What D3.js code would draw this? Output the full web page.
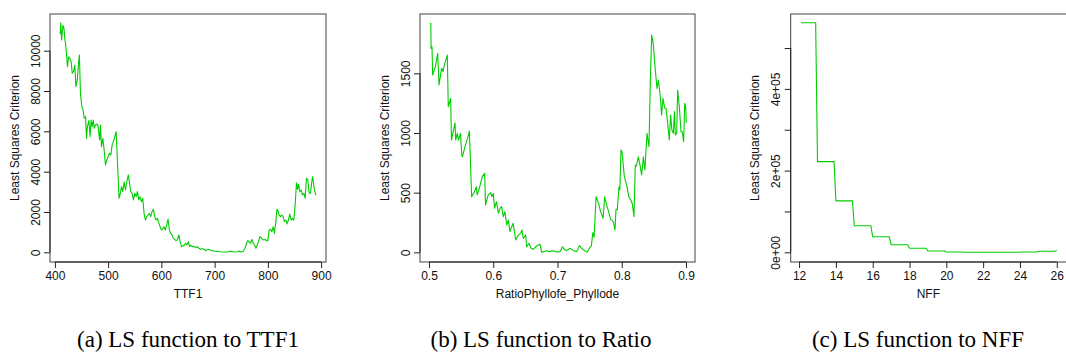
<!DOCTYPE html>
<html>
<head>
<meta charset="utf-8">
<script src="https://cdn.jsdelivr.net/npm/d3@7"></script>
<style>
  body { margin: 0; background: #fff; }
  svg { display: block; }
  .tick text, .title { font-family: "Liberation Sans", Arial, sans-serif; font-size: 12px; fill: #111; }
  .caption { font-family: "Liberation Serif", "Times New Roman", serif; font-size: 23px; fill: #000; }
</style>
</head>
<body>
<svg id="fig"></svg>
<script>
// (TTF1, LS criterion)
const ttf1Points = [
  [410,10830],[411,11380],[412.5,10530],[415,11260],[417,11100],[418.8,10530],[420,10360],[423.8,9200],
  [425.6,9700],[428,9620],[430.6,9450],[432.5,8880],[435,8960],[437.5,9290],[439.4,8220],[442,8550],
  [444.4,9370],[446,9790],[448,7890],[450.6,7220],[453,7060],[455,6650],[457.5,6730],[459.4,5650],
  [461,6230],[463.8,6530],[466,5740],[468,6560],[470,6230],[472,6560],[474,6150],[476,6310],
  [479,6360],[481,6270],[484,5570],[485.6,6310],[487.5,5240],[490,5650],[492.5,5070],[495,4330],
  [497.5,4580],[500,4740],[502.5,4910],[505,4830],[507.5,5320],[510,5490],[512.5,5740],[515,5990],
  [520.5,2680],[523,2930],[525,3260],[527.5,3010],[530,3500],[532.5,3090],[535,3500],[538,3840],
  [540.6,3340],[542.5,3010],[545,2930],[547.5,2600],[550,2930],[552.5,2760],[555,3010],[557.5,2600],
  [560,2760],[562.5,2510],[565,2680],[567.5,1930],[570,1600],[572.5,1770],[575,1850],[577.5,1930],
  [580,1770],[582.5,2020],[585,2130],[587.5,1770],[590,1600],[592.5,1690],[595,1470],[597.5,1270],
  [600,1110],[602.5,1140],[605,1270],[607.5,1110],[610,1360],[612.5,1650],[615,1110],[617.5,940],
  [620,860],[622.5,690],[625,640],[627.5,580],[630,610],[633,860],[635.6,480],[638,280],
  [640.6,310],[643,360],[645.6,450],[648,360],[650.6,530],[653,280],[655.6,350],[658,280],
  [661,310],[664,230],[667.5,280],[670.6,200],[673.8,150],[677,180],[680,150],[683,80],
  [686,130],[689,150],[692.5,100],[698.8,50],[705,50],[711,30],[717.5,15],[724,15],
  [730,65],[736,15],[742.5,30],[745.6,65],[748.8,15],[753.8,50],[757,200],[760,450],
  [762.5,580],[765,510],[767.5,450],[770,640],[772.5,450],[775,360],[777.5,200],[780,360],
  [782.5,530],[785,780],[787.5,730],[790,640],[792.5,610],[795,640],[797.5,580],[800,580],
  [802.5,1110],[805,1140],[807.5,1020],[810,1270],[812.5,940],[813.8,1310],[815,1470],[817,2130],
  [819,2070],[821,1850],[823.8,1770],[826,1850],[828.8,1770],[831,1520],[833.8,1600],[836,1410],
  [838.8,1600],[841,1900],[843.8,1600],[846,1690],[848.8,1600],[851,2260],[853.8,3450],[855.6,3120],
  [857.5,3390],[860,3010],[862.5,3090],[865,2840],[867.5,2930],[870,2680],[872.5,3670],[875,3590],
  [877.5,2930],[880,2930],[882.5,3500],[884,3750],[887,3170],[890,2840]
];

// (RatioPhyllofe_Phyllode, LS criterion)
const ratioPoints = [
  [0.5016,1913],[0.5028,1919],[0.5033,1709],[0.5047,1723],[0.5057,1486],[0.5073,1514],[0.5099,1556],[0.5135,1667],
  [0.5156,1402],[0.5176,1472],[0.5197,1542],[0.5218,1514],[0.5239,1570],[0.5285,1653],[0.530,1220],[0.5337,1290],
  [0.535,941],[0.5405,1086],[0.5415,941],[0.544,997],[0.546,941],[0.549,997],[0.551,815],[0.552,800],
  [0.556,885],[0.56,955],[0.5628,1016],[0.5664,466],[0.57,500],[0.5737,550],[0.575,480],[0.579,550],
  [0.583,634],[0.5866,662],[0.588,397],[0.592,480],[0.596,500],[0.598,466],[0.600,494],[0.602,369],
  [0.605,424],[0.608,327],[0.6105,369],[0.613,383],[0.6157,299],[0.618,341],[0.621,229],[0.6235,271],
  [0.626,173],[0.6287,215],[0.631,243],[0.635,103],[0.639,145],[0.6427,159],[0.6447,187],[0.6468,117],
  [0.6505,145],[0.652,47],[0.6556,75],[0.6588,34],[0.6624,25],[0.6676,53],[0.6728,67],[0.6754,0],
  [0.683,14],[0.688,6],[0.6935,14],[0.6987,3],[0.704,6],[0.708,47],[0.7106,25],[0.7143,14],
  [0.7195,34],[0.7247,14],[0.73,6],[0.734,56],[0.7376,34],[0.742,14],[0.7464,3],[0.7506,42],
  [0.7527,53],[0.755,165],[0.757,126],[0.76,466],[0.762,438],[0.764,410],[0.767,341],[0.771,285],
  [0.7734,466],[0.7765,397],[0.78,332],[0.7827,276],[0.7869,257],[0.7895,187],[0.791,360],[0.793,355],
  [0.7957,550],[0.797,522],[0.7988,857],[0.8004,843],[0.804,634],[0.8076,564],[0.811,466],[0.814,438],
  [0.8165,405],[0.819,299],[0.8211,732],[0.822,718],[0.8237,746],[0.8258,801],[0.8284,732],[0.831,648],
  [0.8336,801],[0.836,690],[0.8393,997],[0.8424,885],[0.8445,1444],[0.8466,1821],[0.849,1751],[0.8522,1528],
  [0.8549,1374],[0.857,1444],[0.86,1304],[0.862,1151],[0.8642,1290],[0.8668,1207],[0.8689,1207],[0.872,1053],
  [0.874,941],[0.8761,1151],[0.878,1025],[0.8803,997],[0.882,1179],[0.8834,983],[0.8855,997],[0.887,1360],
  [0.8896,1220],[0.8922,1011],[0.8942,1011],[0.8963,927],[0.898,1248],[0.8995,1220],[0.9005,1086]
];

// (NFF, LS criterion), step-like
const nffPoints = [
  [12.1,562000],[12.9,562000],[13.0,222000],[13.9,222000],[14.0,126000],[14.9,126000],[15.0,65000],[15.9,65000],
  [16.0,38000],[16.9,38000],[17.0,18500],[17.9,18500],[18.0,9800],[18.9,9800],[19.0,3200],[19.9,3200],
  [20.0,700],[20.9,700],[21.0,200],[21.9,200],[22.0,0],[22.9,0],[23.0,200],[23.9,200],
  [24.0,900],[24.9,900],[25.0,2500],[25.9,2500],[26.0,4500]
];

const ttf1XTicks = [400, 500, 600, 700, 800, 900];
const ttf1YTicks = [0, 2000, 4000, 6000, 8000, 10000];
const ratioXTicks = [0.5, 0.6, 0.7, 0.8, 0.9];
const ratioYTicks = [0, 500, 1000, 1500];
const nffXTicks = [12, 14, 16, 18, 20, 22, 24, 26];
const nffYTicks = [0, 100000, 200000, 300000, 400000, 500000];
const nffYLabels = ["0e+00", "", "2e+05", "", "4e+05", ""];

const xTitles = ["TTF1", "RatioPhyllofe_Phyllode", "NFF"];
const captions = ["(a) LS function to TTF1", "(b) LS function to Ratio", "(c) LS function to NFF"];

const W = 1066, H = 356;
const plotTop = 14, plotBottom = 262;
const lineColor = "#00cd00";

const panels = [
  {pts: ttf1Points, left: 50, right: 326, xDom: [390.8, 909.2], yDom: [-481, 11820],
   xt: ttf1XTicks, yt: ttf1YTicks, yfmt: d => String(d), capX: 188},
  {pts: ratioPoints, left: 420, right: 695, xDom: [0.486, 0.914], yDom: [-81, 1997],
   xt: ratioXTicks, yt: ratioYTicks, yfmt: d => String(d), capX: 541},
  {pts: nffPoints, left: 790.7, right: 1067, xDom: [11.544, 26.556], yDom: [-23700, 583300],
   xt: nffXTicks, yt: nffYTicks, yfmt: (d, i) => nffYLabels[i], capX: 918}
];

const svg = d3.select("#fig").attr("width", W).attr("height", H);
svg.append("rect").attr("width", W).attr("height", H).attr("fill", "#fff");

panels.forEach(function(p, k) {
  var x = d3.scaleLinear().domain(p.xDom).range([p.left, p.right]);
  var y = d3.scaleLinear().domain(p.yDom).range([plotBottom, plotTop]);

  // the data line
  svg.append("path")
    .datum(p.pts)
    .attr("fill", "none")
    .attr("stroke", lineColor)
    .attr("stroke-width", 1.1)
    .attr("stroke-linejoin", "round")
    .attr("d", d3.line().x(d => x(d[0])).y(d => y(d[1])));

  // box around the plot region
  svg.append("rect")
    .attr("x", p.left).attr("y", plotTop)
    .attr("width", p.right - p.left).attr("height", plotBottom - plotTop)
    .attr("fill", "none").attr("stroke", "#444").attr("stroke-width", 1);

  // x axis
  var gx = svg.append("g")
    .attr("transform", "translate(0," + plotBottom + ")")
    .call(d3.axisBottom(x).tickValues(p.xt).tickSize(6).tickPadding(3).tickFormat(d => String(d)));
  gx.select(".domain").remove();
  gx.append("line")
    .attr("x1", x(p.xt[0])).attr("x2", x(p.xt[p.xt.length - 1]))
    .attr("stroke", "#222");
  gx.selectAll(".tick line").attr("stroke", "#222");
  gx.selectAll(".tick text").attr("y", 18).attr("dy", 0).attr("fill", "#111");

  // y axis, labels rotated like base R
  var gy = svg.append("g")
    .attr("transform", "translate(" + p.left + ",0)")
    .call(d3.axisLeft(y).tickValues(p.yt).tickSize(6).tickFormat(p.yfmt));
  gy.select(".domain").remove();
  gy.append("line")
    .attr("y1", y(p.yt[0])).attr("y2", y(p.yt[p.yt.length - 1]))
    .attr("stroke", "#222");
  gy.selectAll(".tick line").attr("stroke", "#222");
  gy.selectAll(".tick text")
    .attr("transform", "rotate(-90)")
    .attr("x", 0).attr("y", -10.5).attr("dy", 0)
    .attr("text-anchor", "middle").attr("fill", "#111");

  // axis titles
  svg.append("text").attr("class", "title")
    .attr("x", (p.left + Math.min(p.right, W)) / 2)
    .attr("y", plotBottom + 36)
    .attr("text-anchor", "middle")
    .text(xTitles[k]);
  svg.append("text").attr("class", "title")
    .attr("transform", "translate(" + (p.left - 31.5) + "," + ((plotTop + plotBottom) / 2) + ") rotate(-90)")
    .attr("text-anchor", "middle")
    .text("Least Squares Criterion");

  // caption under each panel
  svg.append("text").attr("class", "caption")
    .attr("x", p.capX).attr("y", 347)
    .attr("text-anchor", "middle")
    .text(captions[k]);
});
</script>
</body>
</html>
